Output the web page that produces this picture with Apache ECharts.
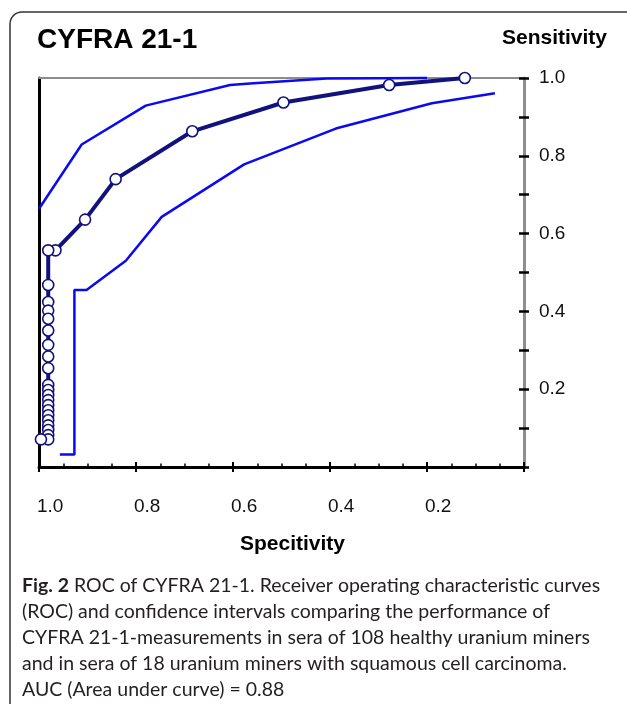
<!DOCTYPE html>
<html>
<head>
<meta charset="utf-8">
<script src="https://cdn.jsdelivr.net/npm/echarts@6/dist/echarts.min.js"></script>
<style>
html,body{margin:0;padding:0;background:#fff;}
#chart{width:627px;height:704px;}
</style>
</head>
<body>
<div id="chart"></div>
<script>
// ROC curve (specificity, sensitivity), ordered from top-right to bottom-left
const rocSpec = [0.122, 0.278, 0.496, 0.684, 0.842, 0.905, 0.966, 0.981,
  0.981, 0.981, 0.981, 0.981, 0.981, 0.981, 0.981, 0.981,
  0.981, 0.981, 0.981, 0.981, 0.981, 0.981, 0.981, 0.981,
  0.981, 0.981, 0.981, 0.981, 0.996];
const rocSens = [1.0, 0.982, 0.937, 0.863, 0.740, 0.636, 0.557, 0.557,
  0.468, 0.424, 0.402, 0.381, 0.351, 0.314, 0.284, 0.254,
  0.211, 0.198, 0.185, 0.172, 0.159, 0.146, 0.133, 0.120,
  0.107, 0.095, 0.082, 0.071, 0.071];
// Upper confidence limit
const upperSpec = [1.0, 0.912, 0.780, 0.606, 0.565, 0.407, 0.2];
const upperSens = [0.664, 0.829, 0.929, 0.982, 0.986, 0.999, 1.0];
// Lower confidence limit
const lowerSpec = [0.957, 0.927, 0.927, 0.902, 0.821, 0.747, 0.577, 0.388, 0.190, 0.060];
const lowerSens = [0.032, 0.032, 0.455, 0.455, 0.530, 0.643, 0.778, 0.870, 0.935, 0.961];
// Tick labels
const xTickLabels = ['1.0', '0.8', '0.6', '0.4', '0.2'];
const yTickLabels = ['0.2', '0.4', '0.6', '0.8', '1.0'];

const titleText = 'CYFRA 21-1';
const yName = 'Sensitivity';
const xName = 'Specitivity';
const captionBold = 'Fig. 2';
const captionLines = [
  ' ROC of CYFRA 21-1. Receiver operating characteristic curves',
  '(ROC) and confidence intervals comparing the performance of',
  'CYFRA 21-1-measurements in sera of 108 healthy uranium miners',
  'and in sera of 18 uranium miners with squamous cell carcinoma.',
  'AUC (Area under curve) = 0.88'
];

function zip(a, b) { return a.map((v, i) => [v, b[i]]); }

const chart = echarts.init(document.getElementById('chart'), null, {renderer: 'canvas'});

const FONT = '"Liberation Sans", Arial, sans-serif';
const NAVY = '#12127e';
const BLUE = '#0a0af2';

const baseX = {
  type: 'value', inverse: true, min: 0, max: 1, interval: 0.2,
  gridIndex: 0, splitLine: {show: false}
};
const baseY = {
  type: 'value', min: 0, max: 1, interval: 0.1,
  gridIndex: 0, splitLine: {show: false}
};

const option = {
  animation: false,
  backgroundColor: '#fff',
  grid: {left: 39, right: 103, top: 78, bottom: 237, containLabel: false, outerBoundsMode: 'none'},
  xAxis: [
    Object.assign({}, baseX, {
      position: 'bottom',
      axisLine: {show: true, onZero: false, lineStyle: {color: '#000', width: 3}},
      axisTick: {show: true, inside: true, length: 5, lineStyle: {color: '#000', width: 2}},
      minorTick: {show: true, splitNumber: 4, length: 3.5, lineStyle: {color: '#000', width: 1.5}},
      axisLabel: {
        show: true, margin: 30, fontFamily: FONT, fontSize: 19, color: '#111',
        align: 'left', padding: [0, 0, 0, -2],
        formatter: function (v) {
          const s = v.toFixed(1);
          return xTickLabels.indexOf(s) >= 0 ? s : '';
        }
      }
    }),
    Object.assign({}, baseX, {
      position: 'bottom',
      axisLine: {show: false, onZero: false},
      axisTick: {show: true, inside: false, length: 5, lineStyle: {color: '#000', width: 2}},
      axisLabel: {show: false}
    }),
    Object.assign({}, baseX, {
      position: 'top',
      axisLine: {show: true, onZero: false, lineStyle: {color: '#8c8c8c', width: 2}},
      axisTick: {show: false},
      axisLabel: {show: false}
    })
  ],
  yAxis: [
    Object.assign({}, baseY, {
      position: 'right',
      axisLine: {show: true, onZero: false, lineStyle: {color: '#8e8e8e', width: 3}},
      axisTick: {show: true, inside: true, length: 5, lineStyle: {color: '#000', width: 2.5}},
      axisLabel: {
        show: true, margin: 15, fontFamily: FONT, fontSize: 19, color: '#111',
        formatter: function (v) {
          const s = v.toFixed(1);
          return yTickLabels.indexOf(s) >= 0 ? s : '';
        }
      }
    }),
    Object.assign({}, baseY, {
      position: 'right',
      axisLine: {show: false, onZero: false},
      axisTick: {show: true, inside: false, length: 5, lineStyle: {color: '#000', width: 2.5}},
      axisLabel: {show: false}
    }),
    Object.assign({}, baseY, {
      position: 'left',
      axisLine: {show: true, onZero: false, lineStyle: {color: '#000', width: 3}},
      axisTick: {show: false},
      axisLabel: {show: false}
    })
  ],
  series: [
    {
      type: 'line', name: 'upper', xAxisIndex: 0, yAxisIndex: 0,
      data: zip(upperSpec, upperSens), showSymbol: false, clip: false,
      lineStyle: {color: BLUE, width: 2.5}, z: 2
    },
    {
      type: 'line', name: 'lower', xAxisIndex: 0, yAxisIndex: 0,
      data: zip(lowerSpec, lowerSens), showSymbol: false, clip: false,
      lineStyle: {color: BLUE, width: 2.5}, z: 2
    },
    {
      type: 'line', name: 'roc', xAxisIndex: 0, yAxisIndex: 0,
      data: zip(rocSpec, rocSens), clip: false,
      showSymbol: true, symbol: 'circle', symbolSize: 11,
      lineStyle: {color: NAVY, width: 4},
      itemStyle: {color: '#fff', borderColor: NAVY, borderWidth: 1.6},
      z: 3
    }
  ],
  graphic: [
    {
      type: 'rect', silent: true, z: 0,
      shape: {x: 10, y: 12, width: 700, height: 760, r: 12},
      style: {fill: 'none', stroke: '#333', lineWidth: 1.5}
    },
    {
      type: 'text', left: 37, top: 26,
      style: {text: titleText, font: 'bold 28px ' + FONT, fill: '#000'}
    },
    {
      type: 'text', right: 20, top: 28,
      style: {text: yName, font: 'bold 21px ' + FONT, fill: '#000', textAlign: 'right'}
    },
    {
      type: 'text', left: 240, top: 534,
      style: {text: xName, font: 'bold 21px ' + FONT, fill: '#000'}
    },
    {
      type: 'text', left: 22, top: 576,
      style: {
        text: '{b|' + captionBold + '}' + captionLines.map(l => '{n|' + l + '}').join('\n'),
        rich: {
          b: {fontFamily: 'Lato', fontWeight: 'bold', fontSize: 19.5, lineHeight: 26, fill: '#231f20'},
          n: {fontFamily: 'Lato', fontSize: 19.5, lineHeight: 26, fill: '#231f20'}
        }
      }
    }
  ]
};
chart.setOption(option);
</script>
</body>
</html>
